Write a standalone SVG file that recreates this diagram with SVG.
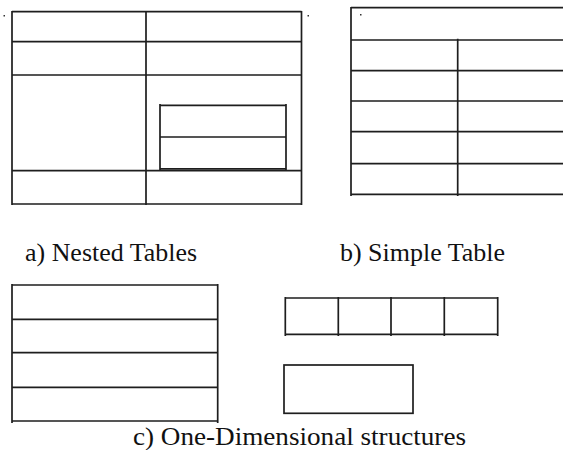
<svg xmlns="http://www.w3.org/2000/svg" width="563" height="450" viewBox="0 0 563 450">
<style>
.l{stroke:#1e1e1e;stroke-width:1.7;fill:none;stroke-linecap:butt}
.t{font-family:"Liberation Serif","Times New Roman",serif;font-size:26px;fill:#111}
.d{fill:#333}
</style>
<rect width="563" height="450" fill="#fff"/>
<g id="nested-table">
<path class="l" d="M12 11.7H301.5M12 41.7H301.5M12 75H301.5M12 170.7H301.5M12 204H301.5M12 11H12V205M146 11V205M301.5 11V205"/>
<g id="inner-table">
<path class="l" d="M160 105.3H286M160 137H286M160 168.8H286M160 104V170M286 104V170"/>
</g>
<rect class="d" x="3.5" y="15" width="1.5" height="1.5"/>
<rect class="d" x="307.5" y="15" width="1.5" height="1.5"/>
</g>
<g id="simple-table">
<path class="l" d="M351 7.7H565M351 40H565M351 70.7H565M351 101H565M351 131.7H565M351 163.7H565M351 194.3H565M351 7V196M457.7 38.7V196"/>
<rect class="d" x="360" y="14" width="1.5" height="1.5"/>
</g>
<g id="vertical-list">
<path class="l" d="M12 285H217.7M12 319.3H217.7M12 352.7H217.7M12 387.3H217.7M12 421H217.7M12 284V423M217.7 284V423"/>
</g>
<g id="horizontal-list">
<path class="l" d="M285.3 298H497.7M285.3 334.3H497.7M285.3 297V336M338.3 297V336M391 297V336M444.3 297V336M497.7 297V336"/>
</g>
<g id="single-box">
<rect class="l" x="284" y="365" width="129" height="48.3"/>
</g>
<g id="labels">
<text class="t" x="25" y="261" textLength="172" lengthAdjust="spacingAndGlyphs">a) Nested Tables</text>
<text class="t" x="340" y="261" textLength="165" lengthAdjust="spacingAndGlyphs">b) Simple Table</text>
<text class="t" x="133" y="445" font-size="27" textLength="333" lengthAdjust="spacingAndGlyphs">c) One-Dimensional structures</text>
</g>
</svg>
